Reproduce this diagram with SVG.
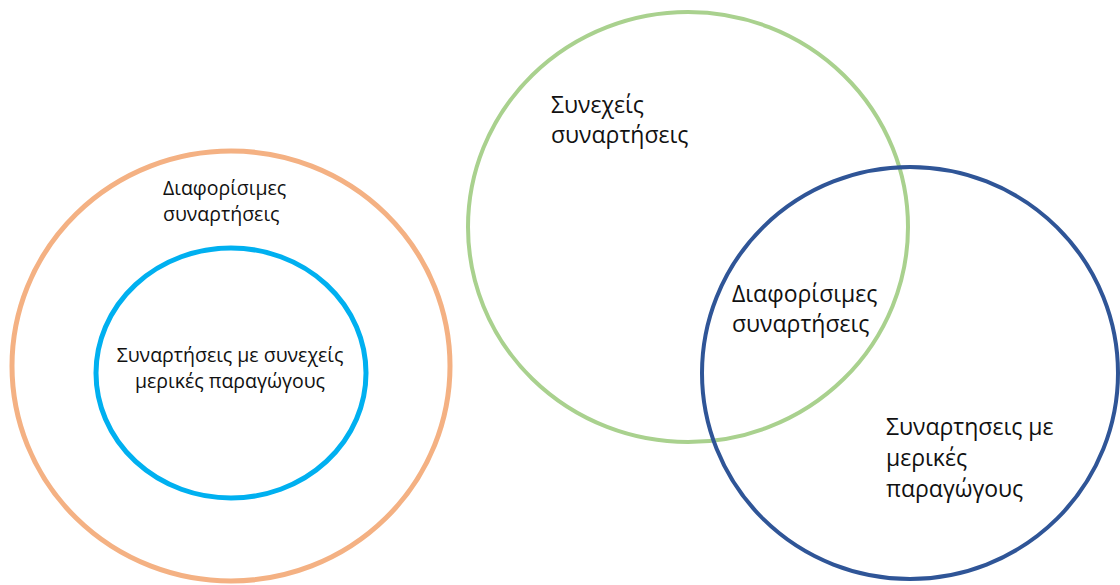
<svg xmlns="http://www.w3.org/2000/svg" width="1120" height="585" viewBox="0 0 1120 585">
  <style>
    .ring { fill: none; }
    .lbl { font-family: "Open Sans", "Noto Sans", sans-serif; fill: #111; }
    .sm { font-size: 19.5px; }
    .lg { font-size: 23px; }
  </style>
  <rect width="1120" height="585" fill="#ffffff"/>

  <!-- Left: nested sets -->
  <g id="differentiable-outer">
    <ellipse class="ring" cx="231" cy="366" rx="219" ry="215" stroke="#F4B183" stroke-width="5"/>
    <text class="lbl sm" x="163" y="195">Διαφορίσιμες</text>
    <text class="lbl sm" x="163" y="221">συναρτήσεις</text>
  </g>
  <g id="continuous-partials-inner">
    <ellipse class="ring" cx="231" cy="373" rx="135" ry="125" stroke="#00B0F0" stroke-width="5"/>
    <text class="lbl sm" x="230" y="362" text-anchor="middle">Συναρτήσεις με συνεχείς</text>
    <text class="lbl sm" x="230" y="388" text-anchor="middle">μερικές παραγώγους</text>
  </g>

  <!-- Right: overlapping sets -->
  <g id="continuous">
    <ellipse class="ring" cx="688" cy="227" rx="220" ry="215" stroke="#A9D18E" stroke-width="4"/>
    <text class="lbl lg" x="551" y="113">Συνεχείς</text>
    <text class="lbl lg" x="551" y="143">συναρτήσεις</text>
  </g>
  <g id="partials">
    <ellipse class="ring" cx="910" cy="373" rx="208" ry="206" stroke="#2F5597" stroke-width="4"/>
    <text class="lbl lg" x="886" y="435">Συναρτησεις με</text>
    <text class="lbl lg" x="886" y="466">μερικές</text>
    <text class="lbl lg" x="886" y="497">παραγώγους</text>
  </g>
  <g id="intersection-label">
    <text class="lbl lg" x="732" y="302">Διαφορίσιμες</text>
    <text class="lbl lg" x="732" y="332">συναρτήσεις</text>
  </g>
  <g id="connectors"></g>
</svg>
